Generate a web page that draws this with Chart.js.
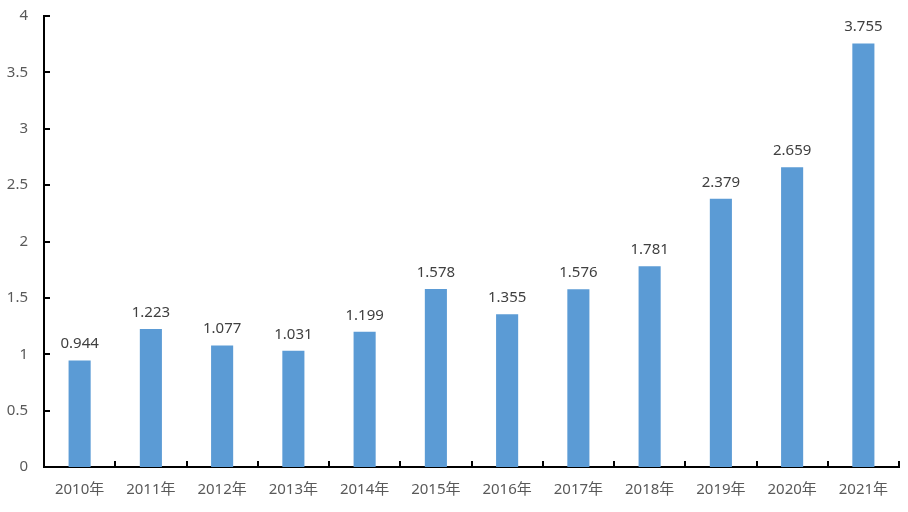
<!DOCTYPE html>
<html>
<head>
<meta charset="utf-8">
<script src="https://cdn.jsdelivr.net/npm/chart.js@4.4.0/dist/chart.umd.min.js"></script>
<style>
  html, body { margin: 0; padding: 0; background: #fff; }
  #wrap { width: 908px; height: 512px; }
</style>
</head>
<body>
<div id="wrap"><canvas id="chart"></canvas></div>
<script>
var years = ['2010年', '2011年', '2012年', '2013年', '2014年', '2015年',
             '2016年', '2017年', '2018年', '2019年', '2020年', '2021年'];
var values = [0.944, 1.223, 1.077, 1.031, 1.199, 1.578,
              1.355, 1.576, 1.781, 2.379, 2.659, 3.755];
var yMax = 4;
var yStep = 0.5;

var fontFamily = '"Noto Sans", "Noto Sans CJK SC", sans-serif';

// small inward tick marks like the original
var innerTicks = {
    id: 'innerTicks',
    afterDraw: function(chart) {
        var ctx = chart.ctx;
        var xs = chart.scales.x;
        var ys = chart.scales.y;
        ctx.save();
        ctx.strokeStyle = '#000';
        ctx.lineWidth = 2;
        ctx.beginPath();
        ys.ticks.forEach(function(t) {
            var py = Math.round(ys.getPixelForValue(t.value));
            ctx.moveTo(xs.left, py);
            ctx.lineTo(xs.left + 6, py);
        });
        var half = (xs.getPixelForValue(1) - xs.getPixelForValue(0)) / 2;
        for (var i = 0; i < years.length; i++) {
            var px = Math.round(xs.getPixelForValue(i) + half);
            ctx.moveTo(px, ys.bottom);
            ctx.lineTo(px, ys.bottom - 6);
        }
        ctx.stroke();
        ctx.restore();
    }
};

// value labels above bars
var valueLabels = {
    id: 'valueLabels',
    afterDatasetsDraw: function(chart) {
        var ctx = chart.ctx;
        var meta = chart.getDatasetMeta(0);
        ctx.save();
        ctx.fillStyle = '#404040';
        ctx.font = '15px ' + fontFamily;
        ctx.textAlign = 'center';
        ctx.textBaseline = 'bottom';
        meta.data.forEach(function(bar, i) {
            ctx.fillText(values[i].toFixed(3), bar.x, bar.y - 9);
        });
        ctx.restore();
    }
};

new Chart(document.getElementById('chart'), {
    type: 'bar',
    data: {
        labels: years,
        datasets: [{
            data: values,
            backgroundColor: '#5B9BD5',
            borderWidth: 0,
            categoryPercentage: 1,
            barPercentage: 0.31
        }]
    },
    options: {
        responsive: true,
        maintainAspectRatio: false,
        animation: false,
        layout: { padding: { top: 16, right: 9, left: 0, bottom: 0 } },
        plugins: {
            legend: { display: false },
            tooltip: { enabled: false }
        },
        scales: {
            x: {
                grid: { display: false, drawTicks: false },
                border: { color: '#000', width: 2 },
                ticks: {
                    color: '#595959',
                    font: { family: fontFamily, size: 15 },
                    padding: 14,
                    maxRotation: 0
                },
                afterFit: function(scale) { scale.height = 45; }
            },
            y: {
                min: 0,
                max: yMax,
                grid: { display: false, drawTicks: false },
                border: { color: '#000', width: 2 },
                ticks: {
                    stepSize: yStep,
                    color: '#595959',
                    font: { family: fontFamily, size: 15 },
                    padding: 16,
                    callback: function(v) { return String(v); }
                },
                afterFit: function(scale) {
                    scale.width = 44;
                    scale.paddingTop = 0;
                    scale.paddingBottom = 0;
                }
            }
        }
    },
    plugins: [innerTicks, valueLabels]
});
</script>
</body>
</html>
